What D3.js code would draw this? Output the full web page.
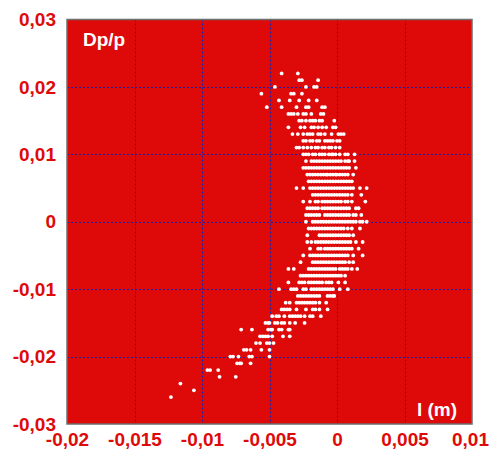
<!DOCTYPE html>
<html>
<head>
<meta charset="utf-8">
<script src="https://cdn.jsdelivr.net/npm/d3@7/dist/d3.min.js"></script>
<style>
  body { margin: 0; background: #fff; }
</style>
</head>
<body>
<div id="canvas"></div>
<script>
let xTicks = [-0.02, -0.015, -0.01, -0.005, 0, 0.005, 0.01];
let yTicks = [-0.03, -0.02, -0.01, 0, 0.01, 0.02, 0.03];

// Dp/p of each row of particles
let rowDp = [0.022, 0.021, 0.020, 0.019, 0.018, 0.017, 0.016, 0.015, 0.014, 0.013,
  0.012, 0.011, 0.010, 0.009, 0.008, 0.007, 0.006, 0.005, 0.004, 0.003, 0.002, 0.001, 0,
  -0.001, -0.002, -0.003, -0.004, -0.005, -0.006, -0.007, -0.008, -0.009, -0.010,
  -0.011, -0.012, -0.013, -0.014, -0.015, -0.016, -0.017, -0.018, -0.019, -0.020,
  -0.021, -0.022, -0.023, -0.024, -0.025, -0.026];

// l of the particles in each row, in 0.1 mm
let rowL = [
  [-41, -29],
  [-28, -26, -14],
  [-46, -23, -17, -15],
  [-56, -34, -32, -26],
  [-43, -35, -28, -21, -15],
  [-52, -41, -30, -23, -21, -11, -9],
  [-36, -34, -32, -29, -25, -23, -19, -12, -10],
  [-28, -26, -23, -20, -18, -16, -13, -11, -2],
  [-36, -27, -24, -19, -17, -14, -11, -8, -3, -1],
  [-33, -29, -25, -22, -20, -18, -14, -12, -9, -4, 1, 3, 5],
  [-25, -23, -20, -18, -15, -13, -9, -7, -5, -3, 0, 2],
  [-30, -28, -25, -22, -19, -16, -14, -11, -9, -6, -4, -1, 2],
  [-25, -23, -21, -18, -16, -13, -11, -9, -6, -4, -3, -1, 2, 6, 8, 13],
  [-23, -19, -17, -15, -13, -11, -9, -7, -5, -3, -1, 1, 3, 6, 8, 9, 13],
  [-25, -23, -21, -19, -17, -15, -13, -11, -9, -7, -5, -3, -1, 1, 3, 5, 7, 9, 14],
  [-22, -20, -18, -16, -14, -12, -10, -8, -7, -5, -3, -1, 0, 2, 4, 6, 8, 12],
  [-21, -19, -17, -15, -13, -11, -9, -7, -5, -3, -1, 1, 3, 5, 7, 9, 11],
  [-30, -25, -20, -18, -16, -14, -12, -10, -8, -6, -4, -2, 0, 2, 4, 6, 8, 10, 12, 17, 22],
  [-18, -16, -14, -12, -10, -8, -6, -4, -2, 0, 2, 4, 6, 8, 11, 18],
  [-25, -20, -16, -14, -11, -9, -7, -5, -3, -1, 1, 3, 6, 8, 11, 21],
  [-22, -20, -18, -16, -14, -11, -9, -7, -5, -3, -1, 1, 3, 5, 7, 9, 14, 16],
  [-23, -21, -19, -17, -15, -13, -9, -7, -5, -3, -1, 1, 3, 5, 7, 9, 12, 14, 18],
  [-23, -18, -16, -14, -12, -10, -8, -6, -4, -2, 0, 2, 4, 6, 8, 10, 12, 14, 17, 19, 22],
  [-21, -19, -17, -15, -13, -11, -9, -7, -5, -3, -1, 1, 3, 5, 8, 11, 17],
  [-22, -13, -11, -9, -7, -5, -3, -1, 1, 3, 5, 7, 9, 12],
  [-22, -19, -16, -14, -12, -10, -8, -6, -4, -2, 0, 2, 4, 6, 8, 10, 14, 19],
  [-20, -14, -12, -9, -7, -5, -3, -1, 1, 3, 5, 7, 9, 11, 16],
  [-25, -20, -18, -16, -14, -12, -10, -8, -6, -4, -2, 0, 2, 4, 6, 8, 12, 19],
  [-27, -18, -16, -14, -12, -10, -8, -6, -4, -2, 0, 2, 4, 6, 9, 12],
  [-36, -32, -21, -19, -17, -15, -13, -11, -9, -7, -5, -3, -1, 2, 4, 6, 8, 11, 15],
  [-27, -25, -23, -21, -19, -17, -15, -13, -11, -9, -7, -5, -3, -1, 1, 3, 6],
  [-36, -28, -26, -24, -21, -19, -17, -15, -13, -11, -8, -6, -4, 1, 6],
  [-43, -34, -32, -30, -25, -23, -19, -17, -15, -13, -11, -9, -7, -5, -3, 2, 8],
  [-29, -27, -25, -23, -21, -19, -17, -15, -13, -7, -5, -3, -2],
  [-38, -35, -30, -28, -26, -24, -22, -20, -18, -16, -13, -8],
  [-41, -39, -37, -35, -30, -23, -18, -16, -13, -7],
  [-48, -45, -43, -39, -35, -33, -31, -29, -27, -24, -20, -18, -12],
  [-53, -51, -50, -46, -44, -41, -39, -35, -31, -24],
  [-71, -63, -51, -49, -48, -43, -41, -36, -35],
  [-57, -55, -53, -51, -48, -40, -35],
  [-60, -57, -52, -50, -47],
  [-69, -67, -64, -56, -50],
  [-79, -77, -73, -65, -63, -50],
  [-74, -72, -71, -64],
  [-96, -94, -88],
  [-87, -75],
  [-116],
  [-106],
  [-123]
];

let points = [];
rowDp.forEach(function(dp, i) {
  rowL[i].forEach(function(l) {
    points.push({ l: l / 10000, dp: dp });
  });
});

let red = '#de0a0a';
let font = '"Liberation Sans", Arial, sans-serif';

let locale = d3.formatLocale({
  decimal: ',',
  thousands: '.',
  grouping: [3],
  currency: ['', ''],
  minus: '-'
});
let fmt = locale.format('~g');

let x = d3.scaleLinear().domain([-0.02, 0.01]).range([67, 472]);
let y = d3.scaleLinear().domain([-0.03, 0.03]).range([424, 19.5]);

let svg = d3.select('#canvas')
  .append('svg')
  .attr('width', 489)
  .attr('height', 452);

svg.append('rect')
  .attr('x', x(-0.02))
  .attr('y', y(0.03))
  .attr('width', x(0.01) - x(-0.02))
  .attr('height', y(-0.03) - y(0.03))
  .attr('fill', red);

// grid
svg.selectAll('.vgrid')
  .data(xTicks.slice(1, -1))
  .enter()
  .append('line')
  .attr('x1', function(d) { return Math.round(x(d)) + 0.5; })
  .attr('x2', function(d) { return Math.round(x(d)) + 0.5; })
  .attr('y1', y(0.03))
  .attr('y2', y(-0.03))
  .attr('stroke', '#1e1ea8')
  .attr('stroke-dasharray', '2,2');

svg.selectAll('.hgrid')
  .data(yTicks.slice(1, -1))
  .enter()
  .append('line')
  .attr('y1', function(d) { return Math.round(y(d)) + 0.5; })
  .attr('y2', function(d) { return Math.round(y(d)) + 0.5; })
  .attr('x1', x(-0.02))
  .attr('x2', x(0.01))
  .attr('stroke', '#1e1ea8')
  .attr('stroke-dasharray', '2,2');

// frame
svg.append('rect')
  .attr('x', x(-0.02))
  .attr('y', y(0.03))
  .attr('width', x(0.01) - x(-0.02))
  .attr('height', y(-0.03) - y(0.03))
  .attr('fill', 'none')
  .attr('stroke', '#6e6e6e')
  .attr('stroke-width', 1.5);

svg.selectAll('.pt')
  .data(points)
  .enter()
  .append('circle')
  .attr('cx', function(d) { return x(d.l); })
  .attr('cy', function(d) { return y(d.dp); })
  .attr('r', 1.9)
  .attr('fill', '#fff');

// axes
let xAxis = svg.append('g')
  .attr('transform', 'translate(0,' + 424 + ')')
  .call(d3.axisBottom(x).tickValues(xTicks).tickFormat(fmt).tickSize(0).tickPadding(9));

let yAxis = svg.append('g')
  .attr('transform', 'translate(' + 67 + ',0)')
  .call(d3.axisLeft(y).tickValues(yTicks).tickFormat(fmt).tickSize(0).tickPadding(11));

[xAxis, yAxis].forEach(function(g) {
  g.select('.domain').remove();
  g.selectAll('text')
    .attr('fill', red)
    .style('font-family', font)
    .style('font-weight', 'bold')
    .style('font-size', '19px');
});

// last x label sits at the right edge
xAxis.selectAll('text')
  .filter(function(d) { return d === 0.01; })
  .attr('dx', -2);

svg.append('text')
  .attr('x', 83)
  .attr('y', 46)
  .attr('fill', '#fff')
  .style('font-family', font)
  .style('font-weight', 'bold')
  .style('font-size', '19px')
  .text('Dp/p');

svg.append('text')
  .attr('x', 457)
  .attr('y', 416)
  .attr('text-anchor', 'end')
  .attr('fill', '#fff')
  .style('font-family', font)
  .style('font-weight', 'bold')
  .style('font-size', '19px')
  .text('l (m)');
</script>
</body>
</html>
